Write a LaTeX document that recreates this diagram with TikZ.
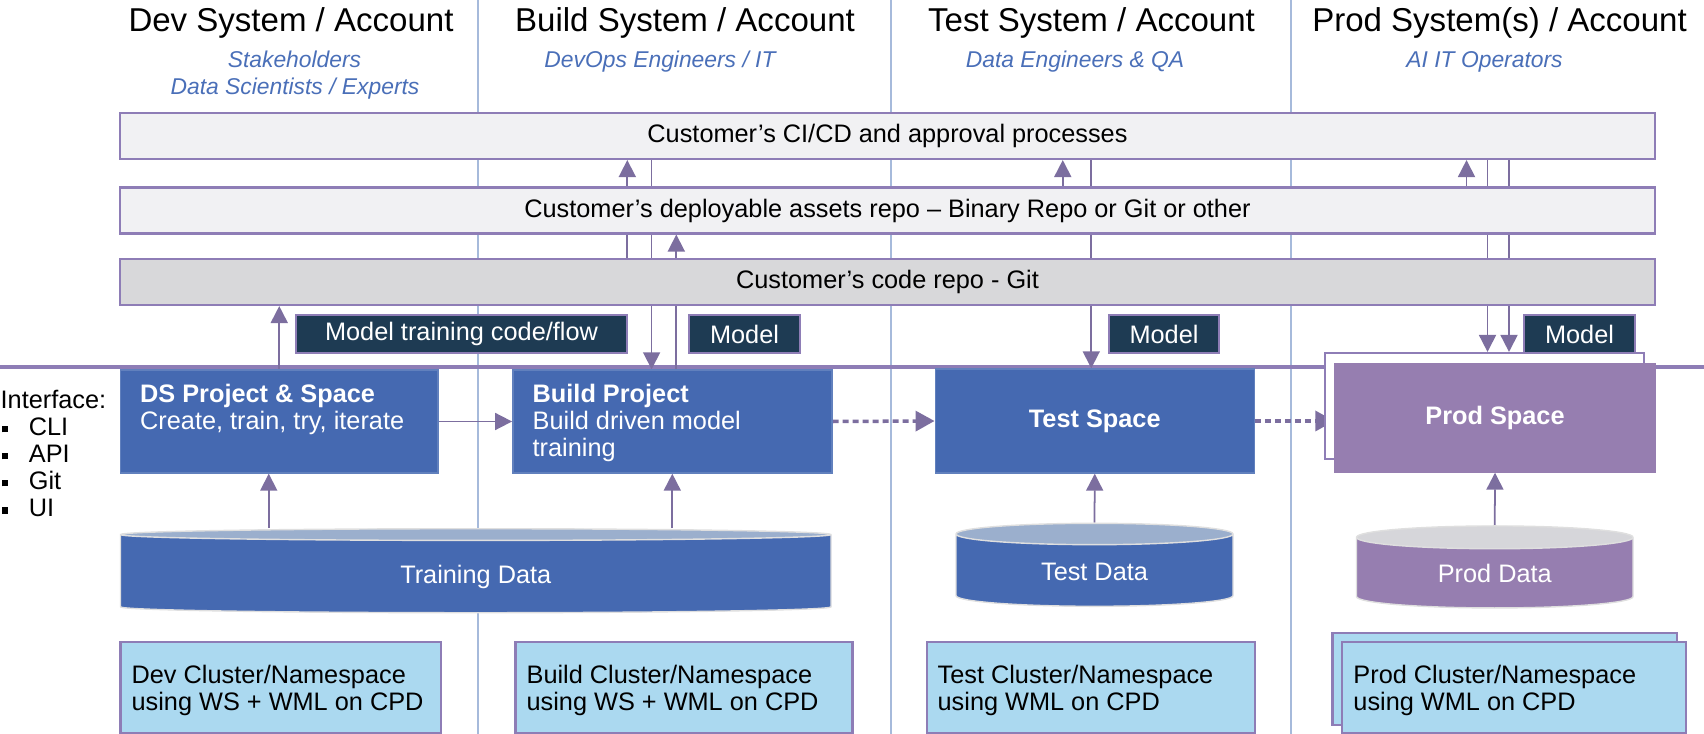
\documentclass[tikz,border=0pt]{standalone}
\usepackage{fontspec}
\setmainfont{Liberation Sans}
\usetikzlibrary{arrows.meta,shapes.geometric,backgrounds}

\definecolor{sblue}{HTML}{4569B1}
\definecolor{spurple}{HTML}{967EB0}
\definecolor{snavy}{HTML}{1E3B53}
\definecolor{slight}{HTML}{ABD9F0}
\definecolor{sedge}{HTML}{8E7DB6}
\definecolor{sdiv}{HTML}{A6BADB}
\definecolor{sband}{HTML}{F1F1F3}
\definecolor{sgit}{HTML}{D8D8DA}
\definecolor{stopblue}{HTML}{9BAFCD}
\definecolor{stopgrey}{HTML}{D6D6DA}
\definecolor{sarrow}{HTML}{7C6E9F}
\definecolor{ssub}{HTML}{4A6FB8}

\newcommand{\ifbullet}{\hspace{0.017cm}\rule[0.03cm]{0.06cm}{0.06cm}\hspace{0.205cm}}

\begin{document}
\begin{tikzpicture}[
  every node/.style={font=\fontsize{7.2}{7.7}\selectfont, inner sep=0pt},
  head/.style={anchor=base, font=\fontsize{9.4}{11}\selectfont},
  role/.style={anchor=base, text=ssub, font=\fontsize{6.5}{7.7}\selectfont\itshape},
  band/.style={draw=sedge, line width=0.6pt, fill=sband, minimum width=15.35cm, minimum height=0.46cm},
  tag/.style={draw=sedge, line width=0.5pt, fill=snavy, text=white, minimum height=0.38cm},
  proj/.style={fill=sblue, draw=sblue!85!white, text=white, minimum width=3.19cm, minimum height=1.03cm,
    font=\fontsize{7.2}{7.7}\selectfont\bfseries},
  lbl/.style={anchor=base west, align=left, text=white},
  store/.style={cylinder, shape border rotate=90, cylinder uses custom fill, cylinder body fill=sblue,
    cylinder end fill=stopblue, draw=white!75!gray, line width=0.4pt, text=white, text height=7.15pt, text depth=1.5pt},
  cluster/.style={draw=sedge, line width=0.6pt, fill=slight, minimum height=0.91cm},
  note/.style={anchor=west, align=left, yshift=-0.03cm},
  flow/.style={draw=sarrow, line width=0.5pt, -{Triangle[length=0.17cm,width=0.17cm]}},
  dflow/.style={flow, line width=1pt, dash pattern=on 0.06cm off 0.04cm, -{Triangle[length=0.19cm,width=0.2cm]}},
  divider/.style={draw=sdiv, line width=0.8pt},
  tier/.style={draw=sedge, line width=1pt}
]
\useasboundingbox (0,0) rectangle (17.04,-7.34);

% headers
\node[head] (hdev) at (2.91,-0.32) {Dev System / Account};
\node[head] (hbuild) at (6.85,-0.32) {Build System / Account};
\node[head] (htest) at (10.915,-0.32) {Test System / Account};
\node[head] (hprod) at (14.995,-0.32) {Prod System(s) / Account};
\node[role] (rdev1) at (2.945,-0.68) {Stakeholders};
\node[role] (rdev2) at (2.95,-0.95) {Data Scientists / Experts};
\node[role] (rbuild) at (6.60,-0.68) {DevOps Engineers / IT};
\node[role] (rtest) at (10.75,-0.68) {Data Engineers \& QA};
\node[role] (rprod) at (14.845,-0.68) {AI IT Operators};

% repos
\node[band] (cicd) at (8.875,-1.36) {Customer’s CI/CD and approval processes};
\node[band] (assets) at (8.875,-2.105) {Customer’s deployable assets repo – Binary Repo or Git or other};
\node[band, fill=sgit] (code) at (8.875,-2.82) {Customer’s code repo - Git};

\node[tag, minimum width=3.31cm] (tflow) at (4.615,-3.34) {Model training code/flow};
\node[tag, minimum width=1.11cm] (tbuild) at (7.445,-3.34) {Model};
\node[tag, minimum width=1.10cm] (ttest) at (11.64,-3.34) {Model};
\node[tag, minimum width=1.11cm] (tprod) at (15.795,-3.34) {Model};

% spaces
\node[anchor=base west, align=left] (iface) at (0,-5.165) {Interface:\\ \ifbullet CLI\\ \ifbullet API\\ \ifbullet Git\\ \ifbullet UI};
\node[proj, minimum width=3.175cm] (ds) at (2.7925,-4.215) {};
\node[lbl] (dslbl) at (1.395,-4.293) {\textbf{DS Project \& Space}\\Create, train, try, iterate};
\node[proj] (build) at (6.723,-4.215) {};
\node[lbl] (buildlbl) at (5.32,-4.57) {\textbf{Build Project}\\Build driven model\\training};
\node[proj, minimum height=1.04cm] (test) at (10.9475,-4.21) {Test Space};
\node[draw=sedge, line width=0.6pt, fill=white, minimum width=3.19cm, minimum height=1.06cm] (prodbk) at (14.845,-4.06) {};
\node[proj, fill=spurple, draw=spurple, minimum width=3.2cm, minimum height=1.08cm] (prod) at (14.95,-4.18) {Prod Space};

% data
\node[store, minimum width=7.105cm, minimum height=0.84cm, aspect=0.0775] (train) at (4.7575,-5.74) {Training Data};
\node[store, minimum width=2.77cm, minimum height=0.83cm, aspect=0.2] (tdata) at (10.945,-5.705) {Test Data};
\node[store, cylinder body fill=spurple, cylinder end fill=stopgrey, minimum width=2.765cm, minimum height=0.82cm, aspect=0.2] (pdata) at (14.9475,-5.73) {Prod Data};

% clusters
\node[cluster, minimum width=3.205cm] (devcl) at (2.8075,-6.875) {};
\node[note] (devtxt) at ([xshift=0.115cm]devcl.west) {Dev Cluster/Namespace\\using WS + WML on CPD};
\node[cluster, minimum width=3.37cm] (buildcl) at (6.84,-6.875) {};
\node[note] (buildtxt) at ([xshift=0.115cm]buildcl.west) {Build Cluster/Namespace\\using WS + WML on CPD};
\node[cluster, minimum width=3.28cm] (testcl) at (10.91,-6.875) {};
\node[note] (testtxt) at ([xshift=0.11cm]testcl.west) {Test Cluster/Namespace\\using WML on CPD};
\node[cluster, minimum width=3.445cm, minimum height=0.92cm] (prodclbk) at (15.0475,-6.79) {};
\node[cluster, minimum width=3.44cm] (prodcl) at (15.14,-6.875) {};
\node[note] (prodtxt) at ([xshift=0.118cm]prodcl.west) {Prod Cluster/Namespace\\using WML on CPD};

\coordinate (dsin) at ([xshift=-0.105cm]ds.south);
\coordinate (bdown) at ([xshift=-0.207cm]build.north);
\coordinate (bup) at ([xshift=0.04cm]build.north);
\coordinate (bci) at ([xshift=-0.45cm]build.north);
\coordinate (tci) at ([xshift=-0.32cm]test.north);
\coordinate (tdown) at ([xshift=-0.035cm]test.north);
\coordinate (pci) at ([xshift=-0.18cm]prodbk.north);
\coordinate (pdown1) at ([xshift=0.03cm]prodbk.north);
\coordinate (pdown2) at ([xshift=0.245cm]prodbk.north);

\begin{pgfonlayer}{background}
  \foreach \x in {4.78,8.91,12.91} \draw[divider] (\x,0) -- (\x,-7.34);
  \draw[tier] (0,-3.67) -- (17.04,-3.67);
  \draw[flow] (ds.north) -- (ds.north |- code.south);
  \draw[flow] (train.north -| dsin) -- (dsin);
  \draw[flow] (train.north -| build.south) -- (build.south);
  \draw[flow] (bdown |- cicd.south) -- (bdown);
  \draw[flow] (bup) -- (bup |- assets.south);
  \draw[flow] (bci |- code.north) -- (bci |- cicd.south);
  \draw[flow] (tci |- assets.north) -- (tci |- cicd.south);
  \draw[flow] (tdown |- cicd.south) -- (tdown);
  \draw[flow] (tdata.north) -- (test.south);
  \draw[flow] (pci |- assets.north) -- (pci |- cicd.south);
  \draw[flow] (pdown1 |- cicd.south) -- (pdown1);
  \draw[flow] (pdown2 |- cicd.south) -- (pdown2);
  \draw[flow] (pdata.north) -- (prod.south);
  \draw[flow] (ds.east) -- (build.west);
  \draw[dflow] (build.east) -- (test.west);
  \draw[dflow] (test.east) -- (test.east -| prod.west);
\end{pgfonlayer}
\end{tikzpicture}
\end{document}
